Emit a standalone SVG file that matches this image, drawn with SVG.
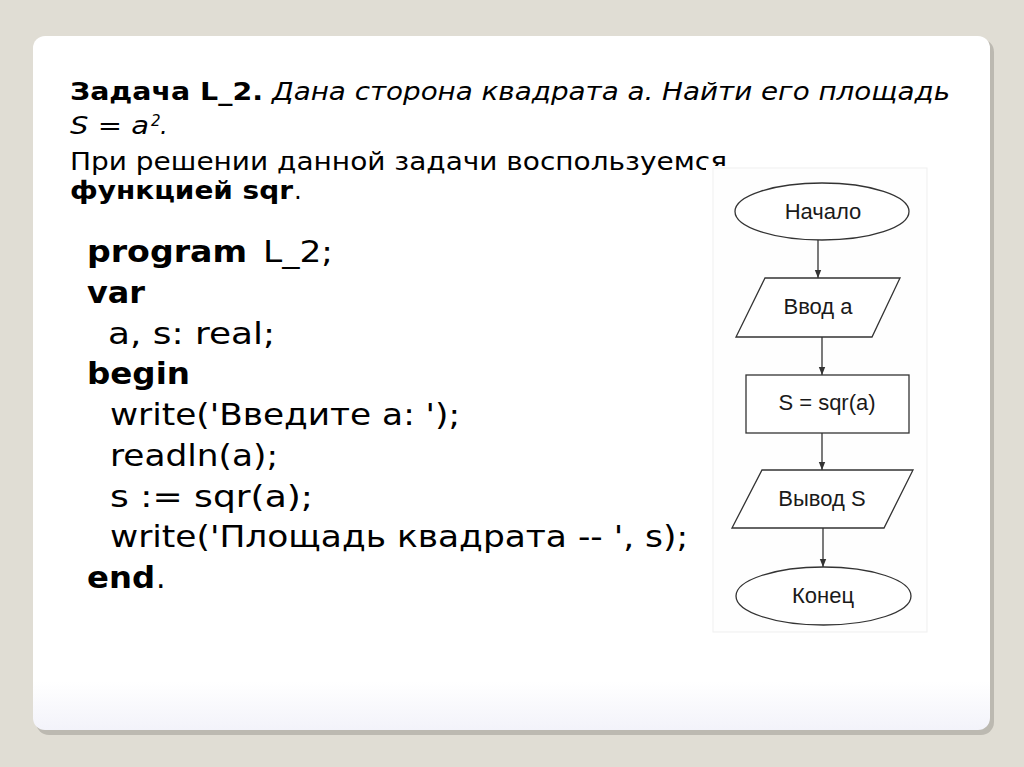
<svg xmlns="http://www.w3.org/2000/svg" width="1024" height="767" viewBox="0 0 1024 767">
  <defs>
    <marker id="arr" viewBox="0 0 10 10" refX="10" refY="5" markerWidth="8" markerHeight="8" markerUnits="userSpaceOnUse" orient="auto">
      <path d="M0,1 L10,5 L0,9 Z" fill="#333"/>
    </marker>
    <linearGradient id="cardg" x1="0" y1="0" x2="0" y2="1">
      <stop offset="0.93" stop-color="#ffffff"/>
      <stop offset="1" stop-color="#f3f3fa"/>
    </linearGradient>
  </defs>
  <style>
    .h { font-family: "DejaVu Sans", Verdana, sans-serif; font-size: 24.5px; fill: #000; }
    .b { font-weight: bold; }
    .i { font-style: italic; }
    .sup { font-size: 15px; }
    .c { font-family: "DejaVu Sans", Verdana, sans-serif; font-size: 30px; fill: #000; }
    .fl { font-family: "Liberation Sans", Arial, sans-serif; font-size: 22px; fill: #1a1a1a; text-anchor: middle; }
    .shape { fill: #ffffff; stroke: #333; stroke-width: 1.3; }
    .conn { stroke: #333; stroke-width: 1.3; fill: none; }
  </style>

  <!-- background and card -->
  <rect x="0" y="0" width="1024" height="767" fill="#e0ddd4"/>
  <rect x="36" y="39" width="958" height="696" rx="13" fill="#bcb9b1"/>
  <rect x="33" y="36" width="957" height="694" rx="12" fill="url(#cardg)"/>

  <!-- heading -->
  <g id="heading">
    <text class="h b" x="70" y="100" textLength="193" lengthAdjust="spacingAndGlyphs">Задача L_2.</text>
    <text class="h i" x="272" y="100" textLength="678" lengthAdjust="spacingAndGlyphs">Дана сторона квадрата a. Найти его площадь</text>
    <text class="h i" x="70" y="134" textLength="79" lengthAdjust="spacingAndGlyphs">S = a</text>
    <text class="h i sup" x="151" y="126">2</text>
    <text class="h i" x="160" y="134">.</text>
    <text class="h" x="70" y="170" textLength="657" lengthAdjust="spacingAndGlyphs">При решении данной задачи воспользуемся</text>
    <text class="h b" x="70" y="199" textLength="223" lengthAdjust="spacingAndGlyphs">функцией sqr</text>
    <text class="h" x="294" y="199">.</text>
  </g>

  <!-- code -->
  <g id="code">
    <text class="c b" x="87" y="262" textLength="160" lengthAdjust="spacingAndGlyphs">program</text>
    <text class="c" x="263" y="262" textLength="70" lengthAdjust="spacingAndGlyphs">L_2;</text>
    <text class="c b" x="87" y="302.7" textLength="58" lengthAdjust="spacingAndGlyphs">var</text>
    <text class="c" x="108" y="343.5" textLength="167" lengthAdjust="spacingAndGlyphs">a, s: real;</text>
    <text class="c b" x="87" y="384.2" textLength="103" lengthAdjust="spacingAndGlyphs">begin</text>
    <text class="c" x="110" y="425" textLength="350" lengthAdjust="spacingAndGlyphs">write('Введите a: ');</text>
    <text class="c" x="110" y="465.7" textLength="168" lengthAdjust="spacingAndGlyphs">readln(a);</text>
    <text class="c" x="110" y="506.5" textLength="203" lengthAdjust="spacingAndGlyphs">s := sqr(a);</text>
    <text class="c" x="110" y="547.2" textLength="578" lengthAdjust="spacingAndGlyphs">write('Площадь квадрата -- ', s);</text>
    <text class="c b" x="87" y="588" textLength="68" lengthAdjust="spacingAndGlyphs">end</text>
    <text class="c" x="156" y="588">.</text>
  </g>

  <!-- flowchart panel (white image area over the text) -->
  <rect x="706" y="166" width="224" height="470" fill="#ffffff"/>
  <rect x="713" y="168" width="214" height="464" fill="#fefefe" stroke="#efefef" stroke-width="1"/>

  <g id="connectors">
    <line class="conn" x1="818" y1="240" x2="818" y2="278" marker-end="url(#arr)"/>
    <line class="conn" x1="822" y1="337" x2="822" y2="375" marker-end="url(#arr)"/>
    <line class="conn" x1="822" y1="433" x2="822" y2="470" marker-end="url(#arr)"/>
    <line class="conn" x1="823" y1="528" x2="823" y2="567" marker-end="url(#arr)"/>
  </g>

  <g id="start">
    <ellipse class="shape" cx="822" cy="211.5" rx="87" ry="28.5"/>
    <text class="fl" x="823" y="219">Начало</text>
  </g>
  <g id="input">
    <polygon class="shape" points="765,278 900,278 872,337 736,337"/>
    <text class="fl" x="818" y="314">Ввод а</text>
  </g>
  <g id="process">
    <rect class="shape" x="746" y="375" width="163" height="58"/>
    <text class="fl" x="827" y="410">S = sqr(a)</text>
  </g>
  <g id="output">
    <polygon class="shape" points="762,470 913,470 884,528 732,528"/>
    <text class="fl" x="822" y="506">Вывод S</text>
  </g>
  <g id="end">
    <ellipse class="shape" cx="823.5" cy="596" rx="87.5" ry="29"/>
    <text class="fl" x="823" y="603">Конец</text>
  </g>
</svg>
